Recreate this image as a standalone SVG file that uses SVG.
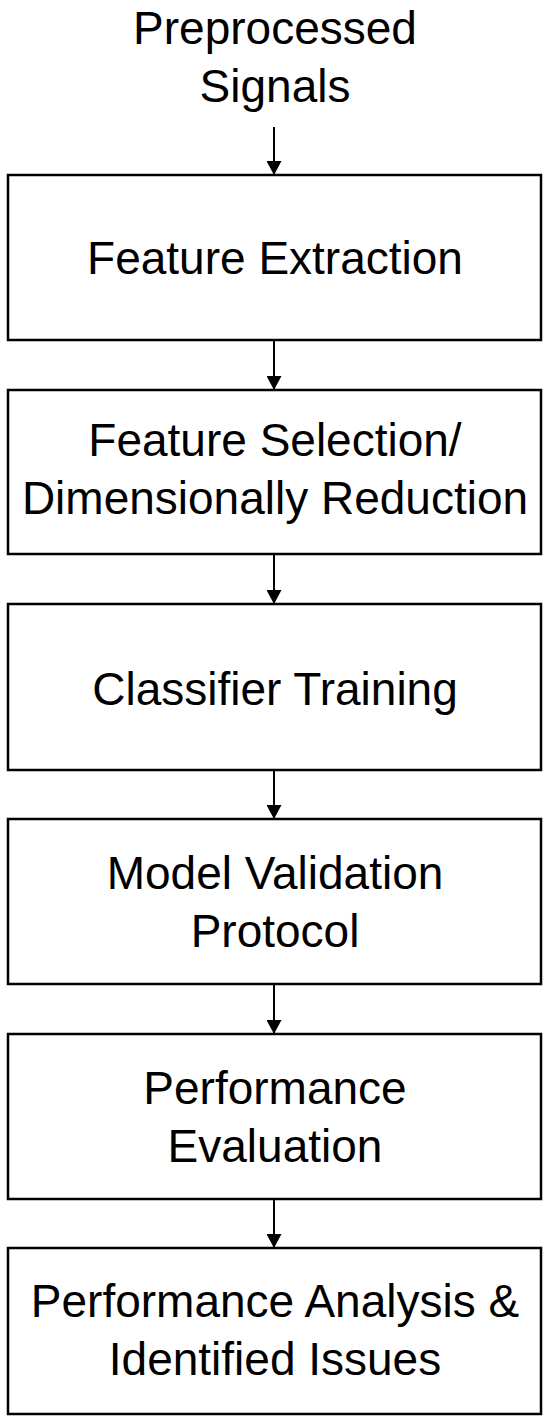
<svg xmlns="http://www.w3.org/2000/svg" width="550" height="1422" viewBox="0 0 550 1422">
<style>
.box{fill:#fff;stroke:#000;stroke-width:2.5}
.t{font-family:"Liberation Sans",Arial,sans-serif;font-size:46px;fill:#000;text-anchor:middle}
.c{stroke:#000;stroke-width:2;fill:none}
</style>
<defs>
<marker id="ah" markerWidth="14" markerHeight="15" refX="14" refY="7.5" orient="auto" markerUnits="userSpaceOnUse">
<path d="M0,0 L14,7.5 L0,15 Z" fill="#000"/>
</marker>
</defs>
<rect width="550" height="1422" fill="#fff"/>
<g id="input">
<text class="t" x="275" y="44">Preprocessed</text>
<text class="t" x="275" y="102">Signals</text>
</g>
<g id="n1"><rect class="box" x="8" y="175" width="533" height="165"/><text class="t" x="275" y="274">Feature Extraction</text></g>
<g id="n2"><rect class="box" x="8" y="390" width="533" height="164"/><text class="t" x="275" y="456">Feature Selection/</text><text class="t" x="275" y="514">Dimensionally Reduction</text></g>
<g id="n3"><rect class="box" x="8" y="604" width="533" height="166"/><text class="t" x="275" y="705">Classifier Training</text></g>
<g id="n4"><rect class="box" x="8" y="819" width="533" height="165"/><text class="t" x="275" y="889">Model Validation</text><text class="t" x="275" y="947">Protocol</text></g>
<g id="n5"><rect class="box" x="8" y="1034" width="533" height="165"/><text class="t" x="275" y="1104">Performance</text><text class="t" x="275" y="1162">Evaluation</text></g>
<g id="n6"><rect class="box" x="8" y="1248" width="533" height="166"/><text class="t" x="275" y="1317">Performance Analysis &amp;</text><text class="t" x="275" y="1375">Identified Issues</text></g>
<g id="connectors">
<line class="c" x1="274" y1="127" x2="274" y2="175" marker-end="url(#ah)"/>
<line class="c" x1="274" y1="340" x2="274" y2="390" marker-end="url(#ah)"/>
<line class="c" x1="274" y1="554" x2="274" y2="604" marker-end="url(#ah)"/>
<line class="c" x1="274" y1="770" x2="274" y2="819" marker-end="url(#ah)"/>
<line class="c" x1="274" y1="984" x2="274" y2="1034" marker-end="url(#ah)"/>
<line class="c" x1="274" y1="1199" x2="274" y2="1248" marker-end="url(#ah)"/>
</g>
</svg>
